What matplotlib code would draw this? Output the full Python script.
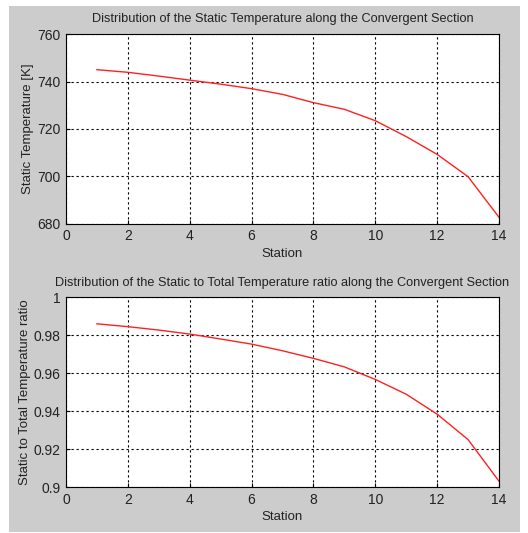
import matplotlib
matplotlib.use("Agg")
import matplotlib.pyplot as plt
from matplotlib.patches import Rectangle

stations = [1, 2, 3, 4, 5, 6, 7, 8, 9, 10, 11, 12, 13, 14]
static_temp = [745.0, 743.9, 742.3, 740.6, 738.9, 737.0, 734.6, 731.1,
               728.3, 723.5, 716.8, 709.3, 699.9, 682.8]
temp_ratio = [0.986, 0.9845, 0.9827, 0.9806, 0.978, 0.9753, 0.9718, 0.9678,
              0.9633, 0.9567, 0.9489, 0.9384, 0.925, 0.9031]

x_ticks = [0, 2, 4, 6, 8, 10, 12, 14]
t_ticks = [680, 700, 720, 740, 760]
r_ticks = [0.9, 0.92, 0.94, 0.96, 0.98, 1]
r_labels = ["0.9", "0.92", "0.94", "0.96", "0.98", "1"]

plt.rcParams["font.family"] = ["Liberation Sans", "DejaVu Sans"]
plt.rcParams["font.size"] = 9.5

fig = plt.figure(figsize=(5.28, 5.33), dpi=100, facecolor="white")
# grey panel behind the axes (MATLAB style window)
fig.patches.append(Rectangle((0.017, 0.002), 0.968, 0.987, transform=fig.transFigure,
                             facecolor="#cccccc", edgecolor="none", zorder=-10))


def style(ax):
    ax.set_xlim(0, 14)
    ax.set_xticks(x_ticks)
    ax.grid(True, color="black", linestyle=(0, (2, 2.5)), linewidth=0.8)
    ax.tick_params(direction="in", length=3, pad=4, color="black", labelcolor="#222222",
                   labelsize=10)
    for s in ax.spines.values():
        s.set_linewidth(0.8)
    ax.set_xlabel("Station", labelpad=3, color="#222222")


ax1 = fig.add_axes([0.125, 0.580, 0.820, 0.356])
ax1.plot(stations, static_temp, color="#ff2020", linewidth=1)
style(ax1)
ax1.set_ylim(680, 760)
ax1.set_yticks(t_ticks)
ax1.set_ylabel("Static Temperature [K]", labelpad=2, color="#222222")
ax1.set_title("Distribution of the Static Temperature along the Convergent Section",
              fontsize=9.2, pad=9, color="#222222")

ax2 = fig.add_axes([0.125, 0.0863, 0.820, 0.356])
ax2.plot(stations, temp_ratio, color="#ff2020", linewidth=1)
style(ax2)
ax2.set_ylim(0.9, 1)
ax2.set_yticks(r_ticks)
ax2.set_yticklabels(r_labels)
ax2.set_ylabel("Static to Total Temperature ratio", labelpad=2, color="#222222")
ax2.set_title("Distribution of the Static to Total Temperature ratio along the Convergent Section",
              fontsize=9.2, pad=8, color="#222222")

fig.savefig("out.png", dpi=100, facecolor=fig.get_facecolor())
